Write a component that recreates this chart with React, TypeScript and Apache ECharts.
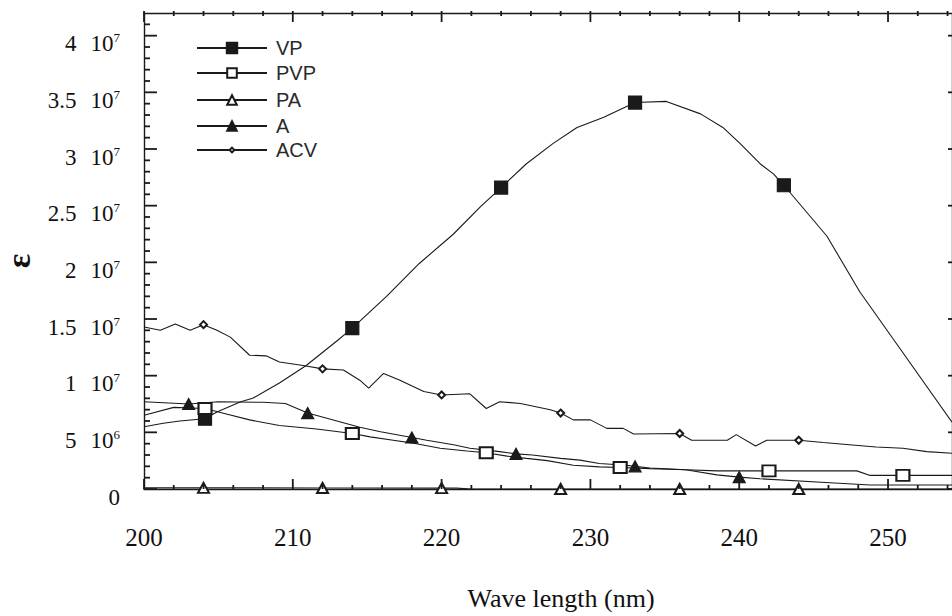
import React, { useEffect, useRef } from 'react';
import * as echarts from 'echarts';

// ---- axes ----
const X_MIN = 200;
const X_MAX = 254.3;
const Y_MAX = 42e6;
const M = 1e6; // values below are in units of 10^6
const xLabelValues = [200, 210, 220, 230, 240, 250];
const yLabelValues = [0, 5e6, 1e7, 1.5e7, 2e7, 2.5e7, 3e7, 3.5e7, 4e7];
const xMajorTicks = [200, 210, 220, 230, 240, 250];
const xMinorTicks = [202, 204, 206, 208, 212, 214, 216, 218, 222, 224, 226, 228, 232, 234, 236, 238, 242, 244, 246, 248, 252, 254];
const yMajorTicks = [0, 5, 10, 15, 20, 25, 30, 35, 40];
const yMinorTicks = [1, 2, 3, 4, 6, 7, 8, 9, 11, 12, 13, 14, 16, 17, 18, 19, 21, 22, 23, 24, 26, 27, 28, 29, 31, 32, 33, 34, 36, 37, 38, 39, 41];

// ---- VP (filled squares) ----
const vpX = [200, 201.3, 202.4, 204.9, 206.5, 207.3, 209.1, 210.9, 213, 216.3, 218.5, 220.8, 222.6, 225.7, 227.5, 229.1, 230.9, 235.1, 237.4, 238.9, 240.05, 241.4, 242.3, 245.9, 248.1, 250.8, 254.3];
const vpY = [5.5, 5.8, 6.0, 6.8, 7.7, 8.0, 9.35, 10.9, 13.1, 17.0, 19.9, 22.5, 24.9, 28.7, 30.5, 31.9, 32.8, 34.2, 33.1, 31.9, 30.5, 28.7, 27.8, 22.3, 17.4, 12.4, 5.9];
const vpMarkX = [204.1, 214, 224, 233, 243];
const vpMarkY = [6.2, 14.2, 26.6, 34.1, 26.8];

// ---- PVP (open squares) ----
const pvpX = [200, 202, 205.6, 207.1, 209.1, 211.6, 215.2, 216.75, 218.3, 219.9, 221.7, 224.4, 225.7, 227.1, 228.85, 230.6, 234, 236.4, 238.5, 247.9, 248.8, 254.3];
const pvpY = [6.5, 7.2, 6.6, 6.1, 5.6, 5.3, 4.6, 4.3, 4.0, 3.6, 3.35, 2.9, 2.7, 2.5, 2.1, 1.95, 1.8, 1.7, 1.6, 1.6, 1.2, 1.2];
const pvpMarkX = [204.1, 214, 223, 232, 242, 251];
const pvpMarkY = [7.1, 4.9, 3.2, 1.9, 1.6, 1.2];

// ---- PA (open triangles) ----
const paX = [200, 221, 222, 254.3];
const paY = [0.1, 0.08, 0, 0];
const paMarkX = [204, 212, 220, 228, 236, 244];
const paMarkY = [0.1, 0.09, 0.08, 0, 0, 0];

// ---- A (filled triangles) ----
const aX = [200, 205, 208, 209.5, 214.5, 215.9, 219, 220.8, 221.9, 223.9, 226.1, 228, 229.3, 230.6, 232.4, 234, 236.4, 238.5, 241.4, 246.1, 248.8, 254.3];
const aY = [7.7, 7.7, 7.65, 7.55, 5.45, 5.05, 4.3, 3.9, 3.6, 3.3, 3.0, 2.7, 2.55, 2.25, 2.1, 1.85, 1.7, 1.25, 0.9, 0.55, 0.35, 0.35];
const aMarkX = [203, 211, 218, 225, 233, 240];
const aMarkY = [7.5, 6.7, 4.55, 3.1, 2.0, 1.05];

// ---- ACV (small open diamonds) ----
const acvX = [200, 201.1, 202.1, 203.1, 204.9, 205.8, 207.1, 208.2, 209.1, 210.7, 213.4, 214.5, 215.1, 216.1, 217.2, 218.8, 221.9, 223.0, 223.9, 225.3, 227.3, 228.85, 230.0, 231.1, 232.2, 232.9, 236.8, 239.2, 239.8, 241.1, 241.85, 245.65, 247.4, 249.2, 251.0, 252.6, 254.3];
const acvY = [14.3, 14.0, 14.55, 14.0, 14.0, 13.4, 11.8, 11.75, 11.2, 10.9, 10.5, 9.6, 8.9, 10.2, 9.6, 8.6, 8.4, 7.1, 7.7, 7.55, 7.0, 6.1, 6.1, 5.35, 5.35, 4.85, 4.3, 4.3, 4.8, 3.8, 4.3, 4.1, 3.9, 3.7, 3.6, 3.3, 3.15];
const acvMarkX = [204, 212, 220, 228, 236, 244];
const acvMarkY = [14.5, 10.6, 8.3, 6.7, 4.9, 4.3];

const seriesNames = ['VP', 'PVP', 'PA', 'A', 'ACV'];

const INK = '#1a1a1a';
const SERIF = 'Liberation Serif';
const SANS = 'Liberation Sans';

function build(px: number[], py: number[], mx: number[], my: number[]) {
  const path = px.map((x, i) => ({ value: [x, py[i] * M], symbol: 'none' }));
  const marks = mx.map((x, i) => ({ value: [x, my[i] * M] }));
  return [...path, ...marks].sort((a, b) => a.value[0] - b.value[0]);
}

const defs = [
  { name: 'VP', data: build(vpX, vpY, vpMarkX, vpMarkY), symbol: 'rect', size: [13, 13] },
  { name: 'PVP', data: build(pvpX, pvpY, pvpMarkX, pvpMarkY), symbol: 'emptyRect', size: [13, 11] },
  { name: 'PA', data: build(paX, paY, paMarkX, paMarkY), symbol: 'emptyTriangle', size: [11, 10] },
  { name: 'A', data: build(aX, aY, aMarkX, aMarkY), symbol: 'triangle', size: [12, 11] },
  { name: 'ACV', data: build(acvX, acvY, acvMarkX, acvMarkY), symbol: 'emptyDiamond', size: [7, 7] },
];

const legendCenters = [48, 73, 100, 126, 150];
const legendIconH = [13, 12, 12, 12, 6];

function yLabel(v: number) {
  if (!yLabelValues.includes(v)) return '';
  if (v === 0) return '{z|0}';
  const exp = Math.floor(Math.log10(v) + 1e-9);
  const m = Math.round((v / Math.pow(10, exp)) * 10) / 10;
  return `{m|${m}}{t|10}{s|${exp}}`;
}

// tick groups: data points + pixel stroke offsets (start dx, dy, end dx, dy)
const tickGroups: { pts: number[][]; seg: number[] }[] = [
  { pts: xMajorTicks.map((x) => [x, 0]), seg: [0, 0, 0, -10] },
  { pts: xMinorTicks.map((x) => [x, 0]), seg: [0, 0, 0, -4] },
  { pts: xMajorTicks.map((x) => [x, Y_MAX]), seg: [0, -2, 0, 9] },
  { pts: xMinorTicks.map((x) => [x, Y_MAX]), seg: [0, -2, 0, 3] },
  { pts: yMajorTicks.map((y) => [X_MIN, y * M]), seg: [0, 0, 13, 0] },
  { pts: yMinorTicks.map((y) => [X_MIN, y * M]), seg: [0, 0, 6, 0] },
  { pts: yMajorTicks.map((y) => [X_MAX, y * M]), seg: [0, 0, -4, 0] },
];

const lineStyle = { color: INK, width: 1.4 };

export default function App() {
  const ref = useRef<HTMLDivElement>(null);
  useEffect(() => {
    document.body.style.margin = '0';
    const chart = echarts.init(ref.current!, undefined, { renderer: 'svg' });
    chart.setOption({
      animation: false,
      backgroundColor: '#ffffff',
      textStyle: { fontFamily: SERIF },
      grid: { left: 144, right: 0, top: 13, bottom: 127, outerBoundsMode: 'none', containLabel: false },
      legend: seriesNames.map((n, i) => ({
        data: [n],
        left: 196,
        top: legendCenters[i] - 10,
        padding: 0,
        itemWidth: 70,
        itemHeight: legendIconH[i],
        selectedMode: false,
        textStyle: { fontFamily: SANS, fontSize: 20, color: '#2a2a2a', lineHeight: 20, padding: [0, 0, 0, 4] },
      })),
      xAxis: [
        {
          type: 'value', min: X_MIN, max: X_MAX, interval: 10, position: 'bottom',
          splitLine: { show: false },
          axisLine: { show: true, onZero: false, lineStyle },
          axisTick: { show: false },
          axisLabel: {
            show: true,
            formatter: (v: number) => (xLabelValues.includes(v) ? String(v) : ''),
            fontFamily: SERIF, fontSize: 25, color: '#111', margin: 36,
          },
          name: 'Wave length (nm)', nameLocation: 'middle', nameGap: 96,
          nameTextStyle: { fontFamily: SERIF, fontSize: 26, color: '#111', padding: [0, 0, 0, 26] },
        },
        {
          type: 'value', min: X_MIN, max: X_MAX, interval: 10, position: 'top',
          splitLine: { show: false },
          axisLine: { show: true, onZero: false, lineStyle },
          axisTick: { show: false },
          axisLabel: { show: false },
        },
      ],
      yAxis: [
        {
          type: 'value', min: 0, max: Y_MAX, interval: 5e6, position: 'left',
          splitLine: { show: false },
          axisLine: { show: true, onZero: false, lineStyle },
          axisTick: { show: false },
          axisLabel: {
            show: true,
            formatter: yLabel, margin: 24, padding: [16, 0, 0, 0], color: '#111',
            fontFamily: SERIF, fontSize: 23,
            rich: {
              m: { fontFamily: SERIF, fontSize: 23, lineHeight: 24, width: 30, align: 'right', color: '#111' },
              t: { fontFamily: SERIF, fontSize: 23, lineHeight: 24, padding: [0, 0, 0, 14], color: '#111' },
              s: { fontFamily: SERIF, fontSize: 13, lineHeight: 13, padding: [0, 0, 12, 0], color: '#111' },
              z: { fontFamily: SERIF, fontSize: 23, lineHeight: 24, color: '#111' },
            },
          },
          name: 'ε', nameLocation: 'middle', nameGap: 104, nameRotate: 90,
          nameTextStyle: { fontFamily: SERIF, fontSize: 34, fontWeight: 'bold', color: '#111', padding: [0, 20, 0, 0] },
        },
        {
          type: 'value', min: 0, max: Y_MAX, interval: 5e6, position: 'right',
          splitLine: { show: false },
          axisLine: { show: true, onZero: false, lineStyle },
          axisTick: { show: false },
          axisLabel: { show: false },
        },
      ],
      series: defs.map((d) => ({
        type: 'line',
        name: d.name,
        data: d.data,
        symbol: d.symbol,
        symbolSize: d.size,
        showSymbol: true,
        showAllSymbol: true,
        clip: true,
        lineStyle: { color: INK, width: 1.1 },
        itemStyle: { color: INK, borderColor: INK, borderWidth: 1.2 },
        emphasis: { disabled: true },
      })),
    });
    // tick marks placed through the chart's own scales (convertToPixel)
    const tickEls: any[] = [];
    tickGroups.forEach((g) => {
      g.pts.forEach((pt) => {
        const p = chart.convertToPixel({ xAxisIndex: 0, yAxisIndex: 0 }, pt) as number[];
        if (!p || isNaN(p[0]) || isNaN(p[1])) return;
        tickEls.push({
          type: 'line',
          silent: true,
          z: 100,
          shape: { x1: p[0] + g.seg[0], y1: p[1] + g.seg[1], x2: p[0] + g.seg[2], y2: p[1] + g.seg[3] },
          style: { stroke: INK, lineWidth: 1.8 },
        });
      });
    });
    chart.setOption({ graphic: { elements: tickEls } });
    return () => chart.dispose();
  }, []);
  return <div ref={ref} style={{ width: 952, height: 616 }} />;
}
